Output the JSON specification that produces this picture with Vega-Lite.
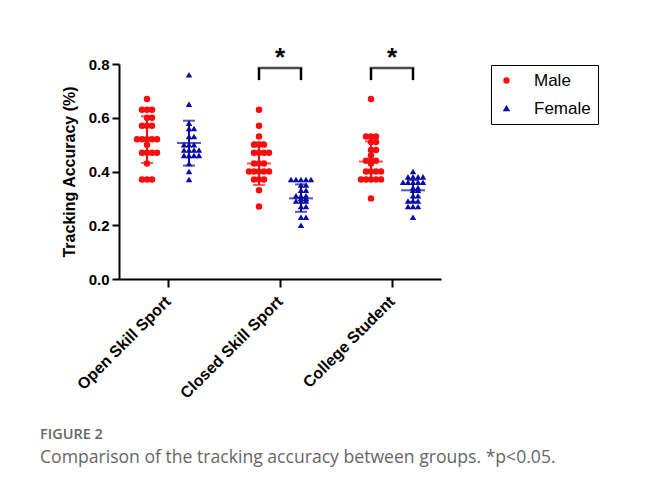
{
  "$schema": "https://vega.github.io/schema/vega-lite/v6.json",
  "width": 322,
  "height": 215,
  "padding": {"left": 40, "top": 45, "right": 5, "bottom": 5},
  "background": "white",
  "config": {
    "view": {"stroke": null},
    "font": "Liberation Sans",
    "axis": {
      "domainColor": "black", "domainWidth": 2, "tickColor": "black", "tickWidth": 2,
      "labelColor": "black", "labelFont": "Liberation Sans", "labelFontWeight": "bold", "labelFontSize": 15,
      "titleFont": "Liberation Sans", "titleFontWeight": "bold", "titleFontSize": 16, "titleColor": "black",
      "grid": false
    },
    "axisY": {"tickSize": 7, "labelPadding": 3, "titlePadding": 11},
    "axisX": {"tickSize": 8, "labelPadding": 6, "labelFontSize": 16, "labelOffset": -6}
  },
  "title": {
    "text": "FIGURE 2",
    "subtitle": "Comparison of the tracking accuracy between groups. *p<0.05.",
    "orient": "bottom", "anchor": "start", "frame": "group", "dx": -79, "offset": 27,
    "font": "Open Sans", "fontSize": 14.5, "fontWeight": 600, "color": "#666666",
    "subtitleFont": "Open Sans", "subtitleFontSize": 17.6, "subtitleColor": "#666666", "subtitlePadding": 6
  },
  "datasets": {
    "pts": [
      {"g": "Open Skill Sport", "s": "Male", "v": 0.67},
      {"g": "Open Skill Sport", "s": "Male", "v": 0.63},
      {"g": "Open Skill Sport", "s": "Male", "v": 0.63},
      {"g": "Open Skill Sport", "s": "Male", "v": 0.63},
      {"g": "Open Skill Sport", "s": "Male", "v": 0.60},
      {"g": "Open Skill Sport", "s": "Male", "v": 0.60},
      {"g": "Open Skill Sport", "s": "Male", "v": 0.57},
      {"g": "Open Skill Sport", "s": "Male", "v": 0.57},
      {"g": "Open Skill Sport", "s": "Male", "v": 0.57},
      {"g": "Open Skill Sport", "s": "Male", "v": 0.52},
      {"g": "Open Skill Sport", "s": "Male", "v": 0.52},
      {"g": "Open Skill Sport", "s": "Male", "v": 0.52},
      {"g": "Open Skill Sport", "s": "Male", "v": 0.52},
      {"g": "Open Skill Sport", "s": "Male", "v": 0.52},
      {"g": "Open Skill Sport", "s": "Male", "v": 0.50},
      {"g": "Open Skill Sport", "s": "Male", "v": 0.47},
      {"g": "Open Skill Sport", "s": "Male", "v": 0.47},
      {"g": "Open Skill Sport", "s": "Male", "v": 0.47},
      {"g": "Open Skill Sport", "s": "Male", "v": 0.47},
      {"g": "Open Skill Sport", "s": "Male", "v": 0.43},
      {"g": "Open Skill Sport", "s": "Male", "v": 0.37},
      {"g": "Open Skill Sport", "s": "Male", "v": 0.37},
      {"g": "Open Skill Sport", "s": "Male", "v": 0.37},
      {"g": "Open Skill Sport", "s": "Female", "v": 0.76},
      {"g": "Open Skill Sport", "s": "Female", "v": 0.65},
      {"g": "Open Skill Sport", "s": "Female", "v": 0.58},
      {"g": "Open Skill Sport", "s": "Female", "v": 0.56},
      {"g": "Open Skill Sport", "s": "Female", "v": 0.56},
      {"g": "Open Skill Sport", "s": "Female", "v": 0.53},
      {"g": "Open Skill Sport", "s": "Female", "v": 0.53},
      {"g": "Open Skill Sport", "s": "Female", "v": 0.50},
      {"g": "Open Skill Sport", "s": "Female", "v": 0.50},
      {"g": "Open Skill Sport", "s": "Female", "v": 0.50},
      {"g": "Open Skill Sport", "s": "Female", "v": 0.48},
      {"g": "Open Skill Sport", "s": "Female", "v": 0.48},
      {"g": "Open Skill Sport", "s": "Female", "v": 0.48},
      {"g": "Open Skill Sport", "s": "Female", "v": 0.48},
      {"g": "Open Skill Sport", "s": "Female", "v": 0.46},
      {"g": "Open Skill Sport", "s": "Female", "v": 0.46},
      {"g": "Open Skill Sport", "s": "Female", "v": 0.46},
      {"g": "Open Skill Sport", "s": "Female", "v": 0.46},
      {"g": "Open Skill Sport", "s": "Female", "v": 0.43},
      {"g": "Open Skill Sport", "s": "Female", "v": 0.40},
      {"g": "Open Skill Sport", "s": "Female", "v": 0.37},
      {"g": "Closed Skill Sport", "s": "Male", "v": 0.63},
      {"g": "Closed Skill Sport", "s": "Male", "v": 0.57},
      {"g": "Closed Skill Sport", "s": "Male", "v": 0.53},
      {"g": "Closed Skill Sport", "s": "Male", "v": 0.50},
      {"g": "Closed Skill Sport", "s": "Male", "v": 0.50},
      {"g": "Closed Skill Sport", "s": "Male", "v": 0.50},
      {"g": "Closed Skill Sport", "s": "Male", "v": 0.47},
      {"g": "Closed Skill Sport", "s": "Male", "v": 0.47},
      {"g": "Closed Skill Sport", "s": "Male", "v": 0.47},
      {"g": "Closed Skill Sport", "s": "Male", "v": 0.47},
      {"g": "Closed Skill Sport", "s": "Male", "v": 0.43},
      {"g": "Closed Skill Sport", "s": "Male", "v": 0.43},
      {"g": "Closed Skill Sport", "s": "Male", "v": 0.43},
      {"g": "Closed Skill Sport", "s": "Male", "v": 0.40},
      {"g": "Closed Skill Sport", "s": "Male", "v": 0.40},
      {"g": "Closed Skill Sport", "s": "Male", "v": 0.40},
      {"g": "Closed Skill Sport", "s": "Male", "v": 0.40},
      {"g": "Closed Skill Sport", "s": "Male", "v": 0.40},
      {"g": "Closed Skill Sport", "s": "Male", "v": 0.37},
      {"g": "Closed Skill Sport", "s": "Male", "v": 0.37},
      {"g": "Closed Skill Sport", "s": "Male", "v": 0.37},
      {"g": "Closed Skill Sport", "s": "Male", "v": 0.33},
      {"g": "Closed Skill Sport", "s": "Male", "v": 0.27},
      {"g": "Closed Skill Sport", "s": "Female", "v": 0.37},
      {"g": "Closed Skill Sport", "s": "Female", "v": 0.37},
      {"g": "Closed Skill Sport", "s": "Female", "v": 0.37},
      {"g": "Closed Skill Sport", "s": "Female", "v": 0.37},
      {"g": "Closed Skill Sport", "s": "Female", "v": 0.37},
      {"g": "Closed Skill Sport", "s": "Female", "v": 0.35},
      {"g": "Closed Skill Sport", "s": "Female", "v": 0.35},
      {"g": "Closed Skill Sport", "s": "Female", "v": 0.33},
      {"g": "Closed Skill Sport", "s": "Female", "v": 0.33},
      {"g": "Closed Skill Sport", "s": "Female", "v": 0.31},
      {"g": "Closed Skill Sport", "s": "Female", "v": 0.31},
      {"g": "Closed Skill Sport", "s": "Female", "v": 0.31},
      {"g": "Closed Skill Sport", "s": "Female", "v": 0.30},
      {"g": "Closed Skill Sport", "s": "Female", "v": 0.30},
      {"g": "Closed Skill Sport", "s": "Female", "v": 0.29},
      {"g": "Closed Skill Sport", "s": "Female", "v": 0.29},
      {"g": "Closed Skill Sport", "s": "Female", "v": 0.29},
      {"g": "Closed Skill Sport", "s": "Female", "v": 0.27},
      {"g": "Closed Skill Sport", "s": "Female", "v": 0.27},
      {"g": "Closed Skill Sport", "s": "Female", "v": 0.23},
      {"g": "Closed Skill Sport", "s": "Female", "v": 0.23},
      {"g": "Closed Skill Sport", "s": "Female", "v": 0.20},
      {"g": "College Student", "s": "Male", "v": 0.67},
      {"g": "College Student", "s": "Male", "v": 0.53},
      {"g": "College Student", "s": "Male", "v": 0.53},
      {"g": "College Student", "s": "Male", "v": 0.53},
      {"g": "College Student", "s": "Male", "v": 0.51},
      {"g": "College Student", "s": "Male", "v": 0.51},
      {"g": "College Student", "s": "Male", "v": 0.48},
      {"g": "College Student", "s": "Male", "v": 0.48},
      {"g": "College Student", "s": "Male", "v": 0.46},
      {"g": "College Student", "s": "Male", "v": 0.44},
      {"g": "College Student", "s": "Male", "v": 0.44},
      {"g": "College Student", "s": "Male", "v": 0.44},
      {"g": "College Student", "s": "Male", "v": 0.43},
      {"g": "College Student", "s": "Male", "v": 0.40},
      {"g": "College Student", "s": "Male", "v": 0.40},
      {"g": "College Student", "s": "Male", "v": 0.40},
      {"g": "College Student", "s": "Male", "v": 0.40},
      {"g": "College Student", "s": "Male", "v": 0.37},
      {"g": "College Student", "s": "Male", "v": 0.37},
      {"g": "College Student", "s": "Male", "v": 0.37},
      {"g": "College Student", "s": "Male", "v": 0.37},
      {"g": "College Student", "s": "Male", "v": 0.37},
      {"g": "College Student", "s": "Male", "v": 0.30},
      {"g": "College Student", "s": "Female", "v": 0.40},
      {"g": "College Student", "s": "Female", "v": 0.38},
      {"g": "College Student", "s": "Female", "v": 0.38},
      {"g": "College Student", "s": "Female", "v": 0.38},
      {"g": "College Student", "s": "Female", "v": 0.38},
      {"g": "College Student", "s": "Female", "v": 0.36},
      {"g": "College Student", "s": "Female", "v": 0.36},
      {"g": "College Student", "s": "Female", "v": 0.36},
      {"g": "College Student", "s": "Female", "v": 0.36},
      {"g": "College Student", "s": "Female", "v": 0.36},
      {"g": "College Student", "s": "Female", "v": 0.34},
      {"g": "College Student", "s": "Female", "v": 0.34},
      {"g": "College Student", "s": "Female", "v": 0.33},
      {"g": "College Student", "s": "Female", "v": 0.33},
      {"g": "College Student", "s": "Female", "v": 0.31},
      {"g": "College Student", "s": "Female", "v": 0.31},
      {"g": "College Student", "s": "Female", "v": 0.29},
      {"g": "College Student", "s": "Female", "v": 0.29},
      {"g": "College Student", "s": "Female", "v": 0.29},
      {"g": "College Student", "s": "Female", "v": 0.27},
      {"g": "College Student", "s": "Female", "v": 0.27},
      {"g": "College Student", "s": "Female", "v": 0.27},
      {"g": "College Student", "s": "Female", "v": 0.23}
    ],
    "sum": [
      {"g": "Open Skill Sport", "s": "Male", "mean": 0.521, "lo": 0.432, "hi": 0.605},
      {"g": "Open Skill Sport", "s": "Female", "mean": 0.506, "lo": 0.422, "hi": 0.589},
      {"g": "Closed Skill Sport", "s": "Male", "mean": 0.43, "lo": 0.35, "hi": 0.509},
      {"g": "Closed Skill Sport", "s": "Female", "mean": 0.30, "lo": 0.25, "hi": 0.352},
      {"g": "College Student", "s": "Male", "mean": 0.437, "lo": 0.365, "hi": 0.512},
      {"g": "College Student", "s": "Female", "mean": 0.33, "lo": 0.287, "hi": 0.368}
    ],
    "sig": [
      {"g": "Closed Skill Sport", "s": "Male", "top": 0.785, "bot": 0.74, "star": "*"},
      {"g": "Closed Skill Sport", "s": "Female", "top": 0.785, "bot": 0.74, "star": "*"},
      {"g": "College Student", "s": "Male", "top": 0.785, "bot": 0.74, "star": "*"},
      {"g": "College Student", "s": "Female", "top": 0.785, "bot": 0.74, "star": "*"}
    ]
  },
  "encoding": {
    "x": {
      "field": "g", "type": "nominal",
      "scale": {"type": "point", "domain": ["Open Skill Sport", "Closed Skill Sport", "College Student"], "padding": 0.4375},
      "axis": {"title": null, "labelAngle": -45}
    }
  },
  "layer": [
    {
      "data": {"name": "pts"},
      "transform": [
        {"filter": {"field": "s", "equal": "Male"}},
        {"window": [{"op": "row_number", "as": "rn"}], "groupby": ["g", "s", "v"]}
      ],
      "mark": {"type": "point", "filled": true, "size": 42, "opacity": 1},
      "encoding": {
        "y": {"field": "v", "type": "quantitative", "title": "Tracking Accuracy (%)",
              "scale": {"domain": [0, 0.8], "nice": false},
              "axis": {"values": [0, 0.2, 0.4, 0.6, 0.8], "format": ".1f"}},
        "xOffset": {"field": "rn", "type": "ordinal", "scale": {"type": "point", "domain": [5, 3, 1, 2, 4], "range": [-31, -11], "padding": 0}},
        "color": {"field": "s", "type": "nominal",
                  "scale": {"domain": ["Male", "Female"], "range": ["#fb0d0d", "#0a0aa8"]},
                  "legend": {"orient": "none", "legendX": 372, "legendY": 1, "title": null,
                             "strokeColor": "black", "padding": 7,
                             "labelFontSize": 17, "labelFont": "Liberation Sans", "labelColor": "black",
                             "symbolSize": 24, "labelOffset": 19, "rowPadding": 10,
                             "encode": {"legend": {"update": {"strokeWidth": {"value": 2}}}}}},
        "shape": {"field": "s", "type": "nominal",
                  "scale": {"domain": ["Male", "Female"], "range": ["circle", "triangle-up"]}}
      }
    },
    {
      "data": {"name": "pts"},
      "transform": [
        {"filter": {"field": "s", "equal": "Female"}},
        {"window": [{"op": "row_number", "as": "rn"}], "groupby": ["g", "s", "v"]}
      ],
      "mark": {"type": "point", "filled": true, "size": 42, "opacity": 1},
      "encoding": {
        "y": {"field": "v", "type": "quantitative", "title": "Tracking Accuracy (%)"},
        "xOffset": {"field": "rn", "type": "ordinal", "scale": {"type": "point", "domain": [5, 3, 1, 2, 4], "range": [11, 31], "padding": 0}},
        "color": {"field": "s", "type": "nominal"},
        "shape": {"field": "s", "type": "nominal"}
      }
    },
    {
      "data": {"name": "sum"},
      "mark": {"type": "rule", "strokeWidth": 2},
      "encoding": {
        "y": {"field": "lo", "type": "quantitative", "title": "Tracking Accuracy (%)"},
        "y2": {"field": "hi"},
        "xOffset": {"field": "s", "type": "nominal", "scale": {"type": "point", "domain": ["Male", "Female"], "range": [-21, 21], "padding": 0}},
        "stroke": {"field": "s", "type": "nominal", "scale": {"domain": ["Male", "Female"], "range": ["#fb0d0d", "#0a0aa8"]}, "legend": null}
      }
    },
    {
      "data": {"name": "sum"},
      "mark": {"type": "tick", "orient": "horizontal", "size": 12, "thickness": 2},
      "encoding": {
        "y": {"field": "lo", "type": "quantitative", "title": "Tracking Accuracy (%)"},
        "xOffset": {"field": "s", "type": "nominal", "scale": {"type": "point", "domain": ["Male", "Female"], "range": [-21, 21], "padding": 0}},
        "fill": {"field": "s", "type": "nominal", "scale": {"domain": ["Male", "Female"], "range": ["#fb0d0d", "#0a0aa8"]}, "legend": null}
      }
    },
    {
      "data": {"name": "sum"},
      "mark": {"type": "tick", "orient": "horizontal", "size": 12, "thickness": 2},
      "encoding": {
        "y": {"field": "hi", "type": "quantitative", "title": "Tracking Accuracy (%)"},
        "xOffset": {"field": "s", "type": "nominal", "scale": {"type": "point", "domain": ["Male", "Female"], "range": [-21, 21], "padding": 0}},
        "fill": {"field": "s", "type": "nominal", "legend": null}
      }
    },
    {
      "data": {"name": "sum"},
      "mark": {"type": "tick", "orient": "horizontal", "size": 24, "thickness": 2},
      "encoding": {
        "y": {"field": "mean", "type": "quantitative", "title": "Tracking Accuracy (%)"},
        "xOffset": {"field": "s", "type": "nominal", "scale": {"type": "point", "domain": ["Male", "Female"], "range": [-21, 21], "padding": 0}},
        "fill": {"field": "s", "type": "nominal", "legend": null}
      }
    },
    {
      "data": {"name": "sig"},
      "mark": {"type": "rule", "strokeWidth": 2.5, "color": "black"},
      "encoding": {
        "y": {"field": "bot", "type": "quantitative", "title": "Tracking Accuracy (%)"},
        "y2": {"field": "top"},
        "xOffset": {"field": "s", "type": "nominal", "scale": {"type": "point", "domain": ["Male", "Female"], "range": [-21, 21], "padding": 0}}
      }
    },
    {
      "data": {"name": "sig"},
      "transform": [{"filter": {"field": "s", "equal": "Male"}}],
      "mark": {"type": "tick", "orient": "horizontal", "size": 44.5, "thickness": 2.5, "color": "black"},
      "encoding": {
        "y": {"field": "top", "type": "quantitative", "title": "Tracking Accuracy (%)"}
      }
    },
    {
      "data": {"name": "sig"},
      "transform": [{"filter": {"field": "s", "equal": "Male"}}],
      "mark": {"type": "text", "fontSize": 26, "fontWeight": "bold", "baseline": "alphabetic", "dy": -2, "color": "black", "font": "Liberation Sans"},
      "encoding": {
        "y": {"field": "top", "type": "quantitative", "title": "Tracking Accuracy (%)"},
        "text": {"field": "star"}
      }
    }
  ],
  "resolve": {"scale": {"xOffset": "independent"}}
}
